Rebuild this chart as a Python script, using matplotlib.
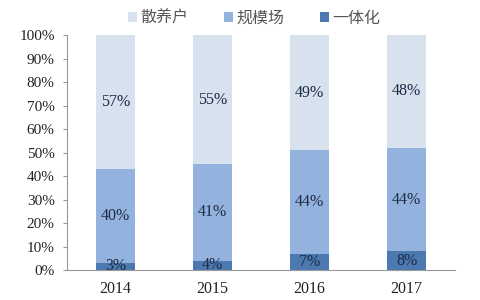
import matplotlib
matplotlib.use("Agg")
import matplotlib.pyplot as plt
import numpy as np

years = ["2014", "2015", "2016", "2017"]
integrated = [3, 4, 7, 8]      # 一体化
large_scale = [40, 41, 44, 44] # 规模场
backyard = [57, 55, 49, 48]    # 散养户
series_names = ["散养户", "规模场", "一体化"]
colors = {"散养户": "#d8e2ee", "规模场": "#93b3de", "一体化": "#4c79b0"}

plt.rcParams['font.family'] = ['Liberation Serif', 'Noto Sans CJK SC']

fig = plt.figure(figsize=(4.8, 3.0), dpi=100)
ax = fig.add_axes([0.14, 0.10, 0.808, 0.783])

x = np.arange(len(years))
w = 0.40
b1 = ax.bar(x, integrated, w, color=colors["一体化"], label="一体化")
b2 = ax.bar(x, large_scale, w, bottom=integrated, color=colors["规模场"], label="规模场")
bot3 = np.array(integrated) + np.array(large_scale)
b3 = ax.bar(x, backyard, w, bottom=bot3, color=colors["散养户"], label="散养户")

lc = "#1e2b45"
for i in range(len(years)):
    ax.text(x[i], integrated[i] / 2, f"{integrated[i]}%", ha="center", va="center",
            fontsize=11.5, color=lc)
    ax.text(x[i], integrated[i] + large_scale[i] / 2, f"{large_scale[i]}%", ha="center",
            va="center", fontsize=11.5, color=lc)
    ax.text(x[i], bot3[i] + backyard[i] / 2, f"{backyard[i]}%", ha="center",
            va="center", fontsize=11.5, color=lc)

ax.set_xlim(-0.5, len(years) - 0.5)
ax.set_ylim(0, 100)
ax.set_yticks(np.arange(0, 101, 10))
ax.set_yticklabels([f"{v}%" for v in range(0, 101, 10)], fontsize=11, color="#222222")
ax.set_xticks(x)
ax.set_xticklabels(years, fontsize=11.5, color="#222222")
ax.tick_params(axis="x", length=0, pad=8)
ax.tick_params(axis="y", length=3, color="#999999", pad=6)
for s in ["top", "right"]:
    ax.spines[s].set_visible(False)
ax.spines["left"].set_color("#999999")
ax.spines["bottom"].set_color("#999999")

handles = [b3, b2, b1]
leg = fig.legend(handles, series_names, loc="center", bbox_to_anchor=(0.53, 0.94),
                 ncol=3, frameon=False, handlelength=0.55, handleheight=0.55,
                 handletextpad=0.25, columnspacing=2.2,
                 prop={"family": "Noto Sans CJK SC", "size": 11.5})
for t in leg.get_texts():
    t.set_color("#555555")

fig.savefig("out.png", dpi=100)
